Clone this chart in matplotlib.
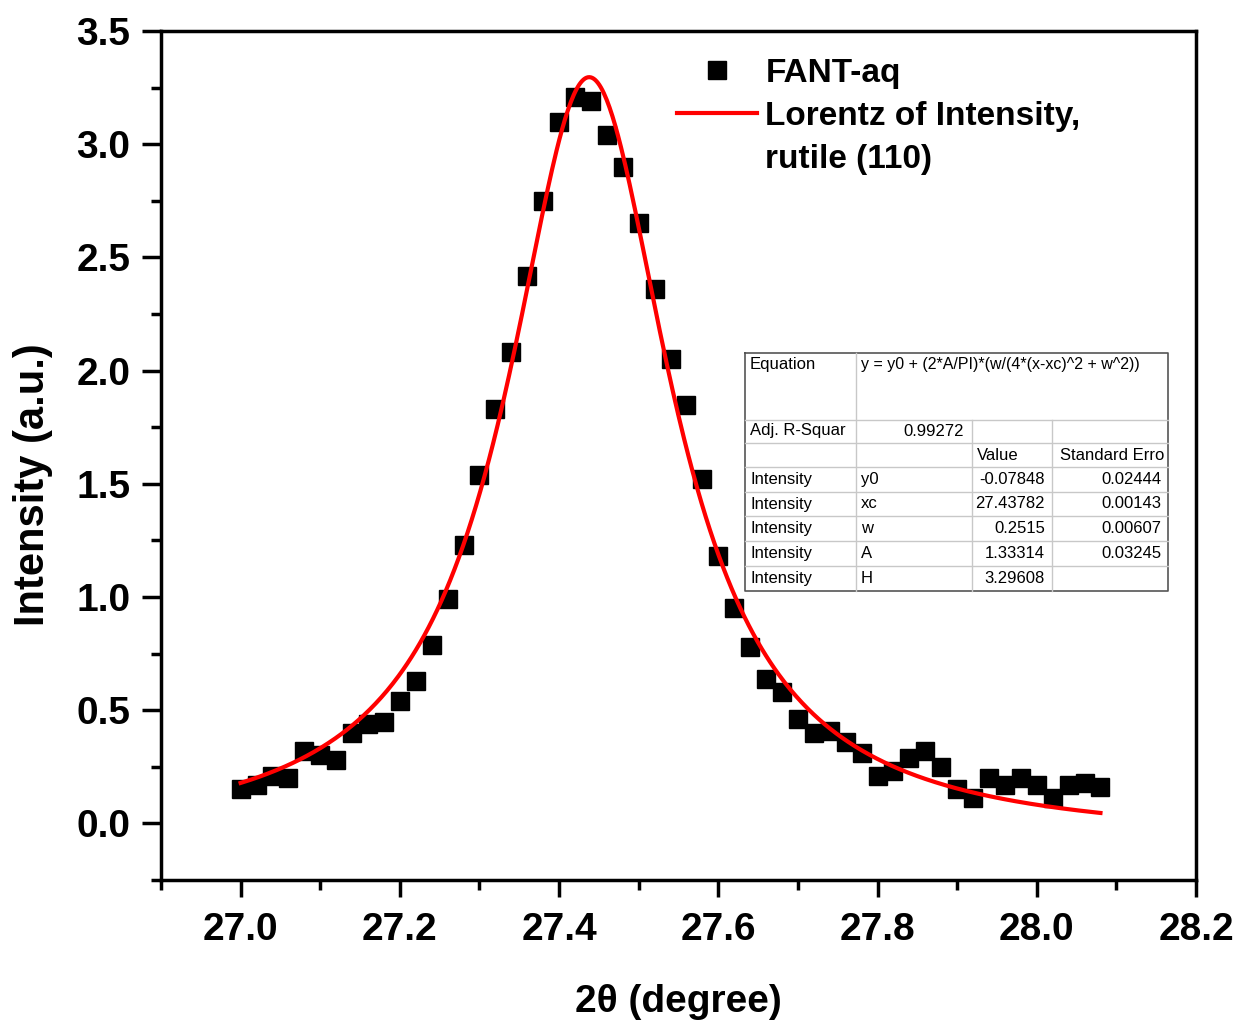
import numpy as np
import matplotlib
matplotlib.use("Agg")
import matplotlib.pyplot as plt
from matplotlib.ticker import MultipleLocator
from matplotlib.lines import Line2D

# ---- data ----
two_theta = [27.00, 27.02, 27.04, 27.06, 27.08, 27.10, 27.12, 27.14, 27.16, 27.18,
             27.20, 27.22, 27.24, 27.26, 27.28, 27.30, 27.32, 27.34, 27.36, 27.38,
             27.40, 27.42, 27.44, 27.46, 27.48, 27.50, 27.52, 27.54, 27.56, 27.58,
             27.60, 27.62, 27.64, 27.66, 27.68, 27.70, 27.72, 27.74, 27.76, 27.78,
             27.80, 27.82, 27.84, 27.86, 27.88, 27.90, 27.92, 27.94, 27.96, 27.98,
             28.00, 28.02, 28.04, 28.06, 28.08]
intensity = [0.15, 0.17, 0.21, 0.20, 0.32, 0.30, 0.28, 0.40, 0.44, 0.45,
             0.54, 0.63, 0.79, 0.99, 1.23, 1.54, 1.83, 2.08, 2.42, 2.75,
             3.10, 3.21, 3.19, 3.04, 2.90, 2.65, 2.36, 2.05, 1.85, 1.52,
             1.18, 0.95, 0.78, 0.64, 0.58, 0.46, 0.40, 0.41, 0.36, 0.31,
             0.21, 0.23, 0.29, 0.32, 0.25, 0.15, 0.11, 0.20, 0.17, 0.20,
             0.17, 0.11, 0.17, 0.18, 0.16]

# Lorentz fit parameters (from the fit table)
y0 = -0.07848
xc = 27.43782
w = 0.2515
A = 1.33314
H = 3.29608
adj_r2 = 0.99272
fit_range = (27.00, 28.08)

x_ticks = [27.0, 27.2, 27.4, 27.6, 27.8, 28.0, 28.2]
x_ticklabels = ["27.0", "27.2", "27.4", "27.6", "27.8", "28.0", "28.2"]
y_ticks = [0.0, 0.5, 1.0, 1.5, 2.0, 2.5, 3.0, 3.5]
y_ticklabels = ["0.0", "0.5", "1.0", "1.5", "2.0", "2.5", "3.0", "3.5"]

table_rows = [
    ["Intensity", "y0", "-0.07848", "0.02444"],
    ["Intensity", "xc", "27.43782", "0.00143"],
    ["Intensity", "w", "0.2515", "0.00607"],
    ["Intensity", "A", "1.33314", "0.03245"],
    ["Intensity", "H", "3.29608", ""],
]

plt.rcParams['font.family'] = ['Liberation Sans', 'DejaVu Sans']

W, Hpx = 1241, 1024
fig = plt.figure(figsize=(W / 100, Hpx / 100), dpi=100)
ax = fig.add_axes([161 / W, 1 - 880 / Hpx, (1196 - 161) / W, (880 - 31) / Hpx])

xf = np.linspace(fit_range[0], fit_range[1], 600)
yf = y0 + (2 * A / np.pi) * (w / (4 * (xf - xc) ** 2 + w ** 2))

ax.plot(two_theta, intensity, 's', color='black', markersize=13, zorder=2)
ax.plot(xf, yf, '-', color='#ff0000', lw=3, zorder=3)

ax.set_xlim(26.9, 28.2)
ax.set_ylim(-0.25, 3.5)
ax.xaxis.set_minor_locator(MultipleLocator(0.1))
ax.yaxis.set_minor_locator(MultipleLocator(0.25))
ax.set_xticks(x_ticks)
ax.set_xticklabels(x_ticklabels)
ax.set_yticks(y_ticks)
ax.set_yticklabels(y_ticklabels)

for s in ax.spines.values():
    s.set_linewidth(2.5)
ax.tick_params(which='major', direction='out', length=13, width=2.5, labelsize=28)
ax.tick_params(axis='y', which='major', length=14, pad=8)
ax.tick_params(axis='x', which='major', length=12, pad=11)
ax.tick_params(which='minor', direction='out', length=7, width=2.5)
for lab in ax.get_xticklabels() + ax.get_yticklabels():
    lab.set_fontweight('bold')

ax.set_xlabel("2θ (degree)", fontsize=28, fontweight='bold', labelpad=26)
ax.set_ylabel("Intensity (a.u.)", fontsize=30, fontweight='bold')
ax.yaxis.set_label_coords((53 - 161) / (1196 - 161), (880 - 485) / (880 - 31))

handles = [
    Line2D([], [], marker='s', ls='none', color='black', markersize=13),
    Line2D([], [], color='#ff0000', lw=3),
    Line2D([], [], color='none'),
]
labels = ['FANT-aq', 'Lorentz of Intensity,', 'rutile (110)']
leg = ax.legend(handles, labels, loc='upper left',
                bbox_to_anchor=((677 - 161) / (1196 - 161), 1 - (58 - 31) / (880 - 31)),
                frameon=False, prop={'weight': 'bold', 'size': 24},
                handlelength=2.4, handletextpad=0.25, labelspacing=0.36,
                borderaxespad=0, borderpad=0)

# ---- fit table (figure pixel coordinates) ----
def fx(px):
    return px / W

def fy(py):
    return 1 - py / Hpx

cols = [745, 856, 972, 1052, 1168]
rows = [353, 420, 443, 467, 492, 516, 541, 566, 591]
lc = '#c8c8c8'
fig.add_artist(Line2D([fx(745), fx(1168), fx(1168), fx(745), fx(745)],
                      [fy(353), fy(353), fy(591), fy(591), fy(353)],
                      color='#555555', lw=1.2))
for r in rows[1:-1]:
    fig.add_artist(Line2D([fx(745), fx(1168)], [fy(r), fy(r)], color=lc, lw=1))
fig.add_artist(Line2D([fx(856), fx(856)], [fy(353), fy(591)], color=lc, lw=1))
for c in cols[2:4]:
    fig.add_artist(Line2D([fx(c), fx(c)], [fy(420), fy(591)], color=lc, lw=1))

fs = 12
fig.text(fx(750), fy(364), "Equation", fontsize=fs, va='center', ha='left')
fig.text(fx(861), fy(364), "y = y0 + (2*A/PI)*(w/(4*(x-xc)^2 + w^2))",
         fontsize=11.5, va='center', ha='left')
fig.text(fx(750), fy(431), "Adj. R-Squar", fontsize=fs, va='center', ha='left')
fig.text(fx(964), fy(431), f"{adj_r2:.5f}", fontsize=fs, va='center', ha='right')
fig.text(fx(977), fy(455), "Value", fontsize=fs, va='center', ha='left')
fig.text(fx(1164), fy(455), "Standard Erro", fontsize=fs, va='center', ha='right')
for i, row in enumerate(table_rows):
    yc = (rows[3 + i] + rows[4 + i]) / 2
    fig.text(fx(750), fy(yc), row[0], fontsize=fs, va='center', ha='left')
    fig.text(fx(861), fy(yc), row[1], fontsize=fs, va='center', ha='left')
    fig.text(fx(1045), fy(yc), row[2], fontsize=fs, va='center', ha='right')
    fig.text(fx(1161), fy(yc), row[3], fontsize=fs, va='center', ha='right')

fig.savefig("out.png", dpi=100)
